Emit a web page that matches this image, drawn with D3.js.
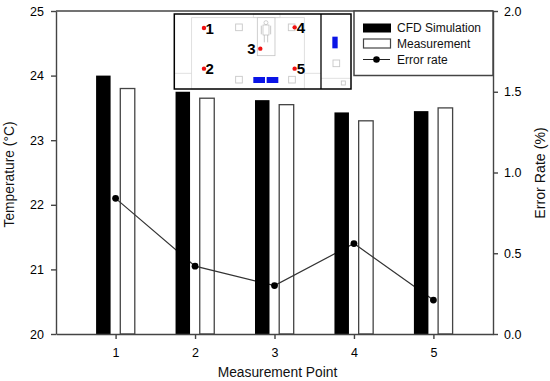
<!DOCTYPE html>
<html>
<head>
<meta charset="utf-8">
<script src="https://cdn.jsdelivr.net/npm/d3@7"></script>
<style>
  html, body { margin: 0; padding: 0; background: #fff; }
  text { font-family: "Liberation Sans", Arial, sans-serif; fill: #111; }
</style>
</head>
<body>
<div id="main-chart"></div>
<script>
const points = [1, 2, 3, 4, 5];
const cfdValues = [24.0, 23.75, 23.62, 23.43, 23.45];
const measuredValues = [23.8, 23.65, 23.55, 23.3, 23.5];
const errorRates = [0.84, 0.42, 0.3, 0.56, 0.21];
const tempTicks = [20, 21, 22, 23, 24, 25];
const errorTicks = [0, 0.5, 1, 1.5, 2];
const legendLabels = ['CFD Simulation', 'Measurement', 'Error rate'];

// sensor spots on the room plan (inset picture)
const sensorNames = ['1', '2', '3', '4', '5'];
const sensorX = [102, 102, 271, 374, 374];
const sensorY = [69, 191, 131, 67, 191];
const sensorLabelX = [119, 119, 244, 393, 393];

const width = 550, height = 381;
const margin = {left: 56, top: 11, right: 57, bottom: 47};
const axisColor = '#444';

let svg = d3.select('#main-chart')
  .append('svg')
  .attr('width', width)
  .attr('height', height)
  .style('display', 'block');

let x = d3.scaleLinear()
  .domain([0.25, 5.75])
  .range([margin.left, width - margin.right]);

let yTemp = d3.scaleLinear()
  .domain([20, 25])
  .range([height - margin.bottom, margin.top]);

let yError = d3.scaleLinear()
  .domain([0, 2])
  .range([height - margin.bottom, margin.top]);

const barWidth = 14.5;
const barBase = yTemp(20);

//White bars go under the line, black bars over it
svg.selectAll('.measured')
  .data(points)
  .join('rect')
  .attr('class', 'measured')
  .attr('x', d => x(d) + 4.7)
  .attr('y', (d, i) => yTemp(measuredValues[i]))
  .attr('width', barWidth)
  .attr('height', (d, i) => barBase - yTemp(measuredValues[i]))
  .attr('fill', '#fff')
  .attr('stroke', axisColor)
  .attr('stroke-width', 1.3);

let line = d3.line()
  .x(d => x(d))
  .y((d, i) => yError(errorRates[i]));

svg.append('path')
  .datum(points)
  .attr('d', line)
  .attr('fill', 'none')
  .attr('stroke', '#333')
  .attr('stroke-width', 1.2);

svg.selectAll('.cfd')
  .data(points)
  .join('rect')
  .attr('class', 'cfd')
  .attr('x', d => x(d) - 19.5)
  .attr('y', (d, i) => yTemp(cfdValues[i]))
  .attr('width', barWidth)
  .attr('height', (d, i) => barBase - yTemp(cfdValues[i]))
  .attr('fill', '#000');

svg.selectAll('.err-dot')
  .data(points)
  .join('circle')
  .attr('class', 'err-dot')
  .attr('cx', d => x(d))
  .attr('cy', (d, i) => yError(errorRates[i]))
  .attr('r', 3.4)
  .attr('fill', '#000');

//Axes
function styleAxis(g) {
  g.selectAll('path, line').attr('stroke', axisColor).attr('stroke-width', 1.4);
  g.selectAll('text').style('font-size', '12.5px').style('fill', '#000');
}

svg.append('g')
  .attr('transform', `translate(${margin.left},0)`)
  .call(d3.axisLeft(yTemp).tickValues(tempTicks).tickSize(5).tickSizeOuter(0).tickFormat(d3.format('d')).tickPadding(7))
  .call(styleAxis);

svg.append('g')
  .attr('transform', `translate(${width - margin.right},0)`)
  .call(d3.axisRight(yError).tickValues(errorTicks).tickSize(5).tickSizeOuter(0).tickFormat(d3.format('.1f')).tickPadding(6))
  .call(styleAxis);

svg.append('g')
  .attr('transform', `translate(0,${barBase})`)
  .call(d3.axisBottom(x).tickValues(points).tickSize(5).tickSizeOuter(0).tickFormat(d3.format('d')).tickPadding(9))
  .call(styleAxis);

svg.append('line')
  .attr('x1', margin.left).attr('x2', width - margin.right)
  .attr('y1', margin.top).attr('y2', margin.top)
  .attr('stroke', axisColor).attr('stroke-width', 1.4);

//Axis titles
svg.append('text')
  .text('Measurement Point')
  .attr('x', 277.5).attr('y', 376.5)
  .attr('text-anchor', 'middle')
  .style('font-size', '13.8px');

svg.append('text')
  .text('Temperature (°C)')
  .attr('transform', 'translate(14,174.5) rotate(-90)')
  .attr('text-anchor', 'middle')
  .style('font-size', '13.8px');

svg.append('text')
  .text('Error Rate (%)')
  .attr('transform', 'translate(545,173) rotate(-90)')
  .attr('text-anchor', 'middle')
  .style('font-size', '14.2px');

//Legend
let legend = svg.append('g');

legend.append('rect')
  .attr('x', 354).attr('y', 11)
  .attr('width', 139).attr('height', 64.5)
  .attr('fill', '#fff')
  .attr('stroke', axisColor)
  .attr('stroke-width', 1.5);

legend.selectAll('text')
  .data(legendLabels)
  .join('text')
  .text(d => d)
  .attr('x', 397)
  .attr('y', (d, i) => 32 + i * 16)
  .style('font-size', '12px');

legend.append('rect')
  .attr('x', 363).attr('y', 23.5)
  .attr('width', 28).attr('height', 9)
  .attr('fill', '#000');

legend.append('rect')
  .attr('x', 363.5).attr('y', 39)
  .attr('width', 27).attr('height', 9)
  .attr('fill', '#fff')
  .attr('stroke', axisColor)
  .attr('stroke-width', 1.2);

legend.append('line')
  .attr('x1', 363).attr('x2', 390)
  .attr('y1', 59.5).attr('y2', 59.5)
  .attr('stroke', '#222');

legend.append('circle')
  .attr('cx', 376.5).attr('cy', 59.5)
  .attr('r', 3.3)
  .attr('fill', '#000');

//Inset room plan, its units are plan units and go through its own scales
let px = d3.scaleLinear().domain([13, 543]).range([174.3, 351]);
let py = d3.scaleLinear().domain([27, 252]).range([14, 89]);
let inset = svg.append('g');

function planRect(x0, y0, x1, y1) {
  return inset.append('rect')
    .attr('x', px(x0)).attr('y', py(y0))
    .attr('width', px(x1) - px(x0))
    .attr('height', py(y1) - py(y0));
}

function planLine(x0, y0, x1, y1, color) {
  return inset.append('line')
    .attr('x1', px(x0)).attr('y1', py(y0))
    .attr('x2', px(x1)).attr('y2', py(y1))
    .attr('stroke', color)
    .attr('stroke-width', 0.8);
}

planRect(13, 27, 543, 252).attr('fill', '#fff');

const planGrey = '#d8d8d8';
planRect(65, 38, 403, 252).attr('fill', 'none').attr('stroke', planGrey).attr('stroke-width', 0.8);
planLine(15, 205, 65, 205, planGrey);
planLine(403, 205, 453, 205, planGrey);
planLine(453, 220, 543, 220, planGrey);
planRect(250, 27, 330, 38).attr('fill', 'none').attr('stroke', planGrey).attr('stroke-width', 0.8);

//Bed and the person lying on it
planRect(262, 38, 315, 152).attr('fill', '#fff').attr('stroke', '#c4c4c4').attr('stroke-width', 0.8);
inset.append('circle')
  .attr('cx', px(288)).attr('cy', py(53)).attr('r', 2)
  .attr('fill', 'none').attr('stroke', '#bbb').attr('stroke-width', 0.7);
planRect(279, 60, 297, 90).attr('fill', 'none').attr('stroke', '#bbb').attr('stroke-width', 0.7);
planLine(274, 62, 274, 88, '#bbb');
planLine(302, 62, 302, 88, '#bbb');
planLine(283, 90, 283, 112, '#bbb');
planLine(293, 90, 293, 112, '#bbb');

//Vents
[[197, 57, 217, 77], [355, 57, 375, 77], [197, 214, 217, 234], [356, 214, 376, 234], [489, 165, 509, 185], [514, 228, 526, 240]]
  .forEach(s => planRect(s[0], s[1], s[2], s[3]).attr('fill', '#fff').attr('stroke', '#c8c8c8').attr('stroke-width', 0.9));

//Blue units
[[487, 95, 503, 130], [250, 216, 285, 234], [290, 216, 325, 234]]
  .forEach(s => planRect(s[0], s[1], s[2], s[3]).attr('fill', '#0a14e6'));

inset.selectAll('.sensor')
  .data(sensorNames)
  .join('circle')
  .attr('class', 'sensor')
  .attr('cx', (d, i) => px(sensorX[i]))
  .attr('cy', (d, i) => py(sensorY[i]))
  .attr('r', 2.2)
  .attr('fill', '#f01010');

inset.selectAll('.sensor-label')
  .data(sensorNames)
  .join('text')
  .attr('class', 'sensor-label')
  .text(d => d)
  .attr('x', (d, i) => px(sensorLabelX[i]))
  .attr('y', (d, i) => py(sensorY[i]) + 5.5)
  .attr('text-anchor', 'middle')
  .style('font-size', '15px')
  .style('font-weight', 'bold')
  .style('fill', '#000');

//Inset frame last so it sits on top
planRect(13, 27, 543, 252).attr('fill', 'none').attr('stroke', '#000').attr('stroke-width', 1.5);
planLine(453, 27, 453, 252, '#000').attr('stroke-width', 1.3);
</script>
</body>
</html>
